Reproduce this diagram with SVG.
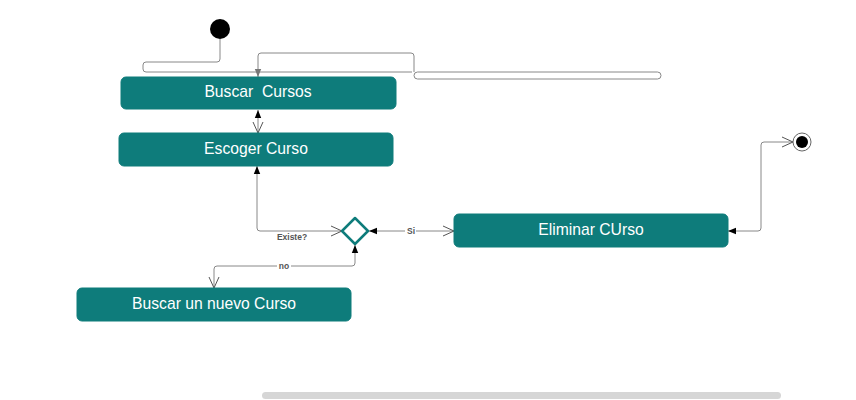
<svg xmlns="http://www.w3.org/2000/svg" width="856" height="400" viewBox="0 0 856 400">
<style>
.box{fill:#0e7c7b;stroke:#0e7c7b;}
.bt{fill:#ffffff;font-family:"Liberation Sans",Arial,sans-serif;font-size:15.7px;text-anchor:middle;white-space:pre;}
.ln{fill:none;stroke:#888;stroke-width:1;}
.lbl{fill:#555;font-family:"Liberation Sans",Arial,sans-serif;font-size:8.5px;font-weight:bold;text-anchor:middle;}
</style>
<defs>
<marker id="fill" viewBox="0 0 10 10" refX="10" refY="5" markerWidth="8" markerHeight="8" orient="auto-start-reverse" markerUnits="userSpaceOnUse">
<path d="M0,1 L10,5 L0,9 Z" fill="#000"/>
</marker>
<marker id="open" viewBox="0 0 12 12" refX="11" refY="6" markerWidth="12" markerHeight="12" orient="auto" markerUnits="userSpaceOnUse">
<path d="M0,1 L11,6 L0,11" fill="none" stroke="#555" stroke-width="1"/>
</marker>
<marker id="gray" viewBox="0 0 10 10" refX="10" refY="5" markerWidth="8" markerHeight="8" orient="auto" markerUnits="userSpaceOnUse">
<path d="M0,1 L10,5 L0,9 Z" fill="#777"/>
</marker>
</defs>
<g id="connectors">
<path class="ln" d="M220,39 V59 a3,3 0 0 1 -3,3 H146 a3,3 0 0 0 -3,3 V69 a3,3 0 0 0 3,3 H412"/>
<path class="ln" d="M414,72 V56 a3,3 0 0 0 -3,-3 H261 a3,3 0 0 0 -3,3 V77" marker-end="url(#gray)"/>
<rect class="ln" x="414" y="72" width="247" height="7" rx="3.5" stroke="#aaa"/>
<path class="ln" d="M258,110 V133" marker-start="url(#fill)" marker-end="url(#open)"/>
<path class="ln" d="M257,166 V228 a3,3 0 0 0 3,3 H342" marker-start="url(#fill)" marker-end="url(#open)"/>
<path class="ln" d="M369,231 H454" marker-start="url(#fill)" marker-end="url(#open)"/>
<path class="ln" d="M355,245 V263 a3,3 0 0 1 -3,3 H217 a3,3 0 0 0 -3,3 V288" marker-start="url(#fill)" marker-end="url(#open)"/>
<path class="ln" d="M728,231 H758 a3,3 0 0 0 3,-3 V145 a3,3 0 0 1 3,-3 H793" marker-start="url(#fill)" marker-end="url(#open)"/>
<text class="lbl" x="292" y="240">Existe?</text>
<rect x="405" y="226" width="11" height="9" fill="#fff"/>
<text class="lbl" x="411" y="234">Si</text>
<rect x="277" y="262" width="14" height="8" fill="#fff"/>
<text class="lbl" x="284" y="269">no</text>
</g>
<g id="start"><circle cx="220" cy="29" r="10" fill="#000"/></g>
<g id="buscar-cursos"><rect class="box" x="121" y="77" width="275" height="32" rx="5"/><text class="bt" x="258" y="97">Buscar  Cursos</text></g>
<g id="escoger-curso"><rect class="box" x="119" y="133" width="274" height="33" rx="5"/><text class="bt" x="256" y="154">Escoger Curso</text></g>
<g id="decision"><path d="M355,218 L368,231 L355,244 L342,231 Z" fill="#fff" stroke="#0e7c7b" stroke-width="2.5" stroke-linejoin="round"/></g>
<g id="eliminar-curso"><rect class="box" x="454" y="214" width="274" height="33" rx="5"/><text class="bt" x="591" y="235">Eliminar CUrso</text></g>
<g id="buscar-nuevo"><rect class="box" x="77" y="288" width="274" height="33" rx="5"/><text class="bt" x="214" y="309">Buscar un nuevo Curso</text></g>
<g id="end"><circle cx="802" cy="142" r="9" fill="#fff" stroke="#666" stroke-width="1"/><circle cx="802" cy="142" r="6" fill="#000"/></g>
<rect x="262" y="392" width="519" height="7" rx="3.5" fill="#d6d6d6"/>
</svg>
